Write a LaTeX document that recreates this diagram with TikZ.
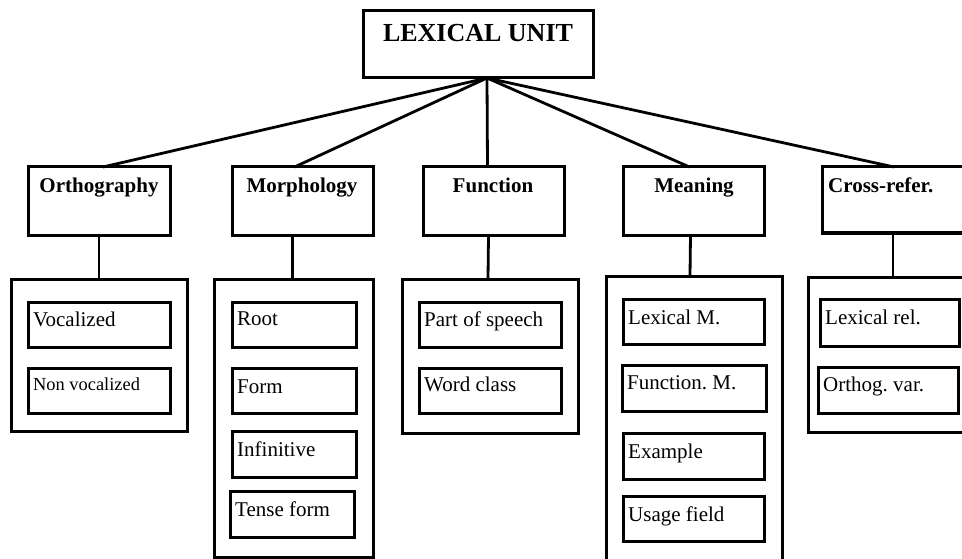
\documentclass[tikz,border=0pt]{standalone}
\usepackage{fontspec}
\setmainfont{Liberation Serif}
\usetikzlibrary{calc}
\frenchspacing
\newcommand\fsz[1]{\fontsize{#1}{#1}\selectfont}
\newcommand\bxx[5]{\node[box, minimum width={(#4-#2)*1pt}, minimum height={(#5-#3)*1pt}] (#1) at ({(#2+#4)/2},{(#3+#5)/2}) {};}
\tikzset{
  box/.style={draw, rectangle, line width=3pt, inner sep=0pt, outer sep=0pt},
  lbl/.style={anchor=base west, inner sep=0pt, font=\fsz{21}},
  hd/.style={anchor=base, inner sep=0pt, font=\bfseries\fsz{21}},
  conn/.style={line width=2.8pt}
}
\begin{document}
\begin{tikzpicture}[x=1pt,y=-1pt]
\useasboundingbox (0,0) rectangle (962,559);
\clip (0,0) rectangle (962,559);
% top
\bxx{top}{363}{11}{593}{78}
\node[anchor=base, inner sep=0pt, font=\bfseries\fsz{26}] (toplbl) at (478,42) {LEXICAL UNIT};
\coordinate (hub) at (487,78);
% level 2
\bxx{orth}{28}{167}{170}{235}
\bxx{morph}{232}{167}{373}{235}
\bxx{func}{423}{167}{564}{235}
\bxx{mean}{623}{167}{764}{235}
\bxx{cross}{822}{167}{980}{233}
\node[hd] (orthl) at (99,193) {Orthography};
\node[hd] (morphl) at (302,193) {Morphology};
\node[hd] (funcl) at (493,193) {Function};
\node[hd] (meanl) at (694,193) {Meaning};
\node[hd, anchor=base west] (crossl) at (828,193) {Cross-refer.};
% connectors top
\draw[conn] (hub) -- ($(orth.north)+(4,0)$);
\draw[conn] (hub) -- ($(morph.north)+(-8,0)$);
\draw[conn] (hub) -- ($(func.north)+(-6,0)$);
\draw[conn] (hub) -- ($(mean.north)+(-4,0)$);
\draw[conn] (hub) -- (894,167);
% level 3 outer
\bxx{orthg}{11}{279}{187}{431}
\bxx{morphg}{214}{279}{373}{557}
\bxx{funcg}{402}{279}{578}{433}
\bxx{meang}{606}{276}{782}{580}
\bxx{crossg}{808}{277}{980}{432}
% vertical connectors
\draw[conn] (orth.south) -- (orthg.north);
\draw[conn] ($(morph.south)+(-10,0)$) -- ($(morphg.north)+(-1,0)$);
\draw[conn] ($(func.south)+(-5,0)$) -- ($(funcg.north)+(-2,0)$);
\draw[conn] ($(mean.south)+(-3,0)$) -- ($(meang.north)+(-4,0)$);
\draw[conn] (893,233) -- (893,277);
% inner boxes: orthography
\bxx{voc}{28}{302}{170}{347}
\bxx{nvoc}{28}{368}{170}{413}
\node[lbl] (vocl) at (33,326) {Vocalized};
\node[lbl, font=\fsz{18.4}] (nvocl) at (33,390) {Non vocalized};
% morphology
\bxx{root}{232}{302}{356}{347}
\bxx{form}{232}{368}{356}{413}
\bxx{inf}{232}{431}{356}{477}
\bxx{tense}{230}{491}{354}{537}
\node[lbl] (rootl) at (237,325) {Root};
\node[lbl] (forml) at (237,393) {Form};
\node[lbl] (infl) at (237,456) {Infinitive};
\node[lbl] (tensel) at (235,516) {Tense form};
% function
\bxx{pos}{419}{302}{561}{347}
\bxx{wcl}{419}{368}{561}{413}
\node[lbl] (posl) at (424,326) {Part of speech};
\node[lbl] (wcll) at (424,391) {Word class};
% meaning
\bxx{lexm}{623}{299}{764}{344}
\bxx{funm}{622}{365}{766}{411}
\bxx{exm}{623}{433}{764}{479}
\bxx{usf}{623}{496}{764}{541}
\node[lbl] (lexml) at (628,324) {Lexical M.};
\node[lbl] (funml) at (627,389) {Function. M.};
\node[lbl] (exml) at (628,458) {Example};
\node[lbl] (usfl) at (628,521) {Usage field};
% cross-refer
\bxx{lrel}{820}{299}{959}{346}
\bxx{ovar}{818}{367}{958}{413}
\node[lbl] (lrell) at (825,324) {Lexical rel.};
\node[lbl] (ovarl) at (823,391) {Orthog. var.};
\end{tikzpicture}
\end{document}
